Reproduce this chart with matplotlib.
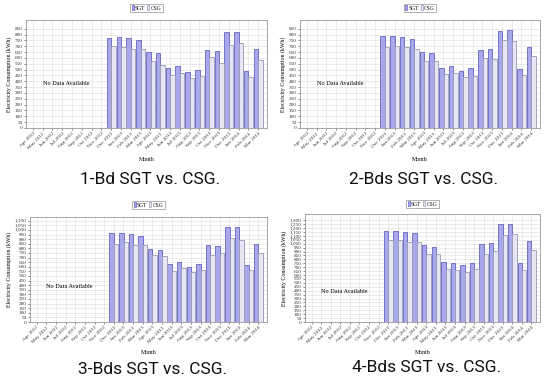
import numpy as np
import matplotlib
matplotlib.use("Agg")
import matplotlib.pyplot as plt
from matplotlib.patches import Patch

# months on the x axis
months = ["Apr 2012", "May 2012", "Jun 2012", "Jul 2012", "Aug 2012", "Sep 2012",
          "Oct 2012", "Nov 2012", "Dec 2012", "Jan 2013", "Feb 2013", "Mar 2013",
          "Apr 2013", "May 2013", "Jun 2013", "Jul 2013", "Aug 2013", "Sep 2013",
          "Oct 2013", "Nov 2013", "Dec 2013", "Jan 2014", "Feb 2014", "Mar 2014"]
first_data = 8  # data starts Dec 2012

# readings per building type (Dec 2012 .. Mar 2014)
sgt_1bd = [775, 780, 775, 755, 655, 645, 515, 530, 480, 500, 670, 660, 820, 825, 485, 675]
csg_1bd = [700, 695, 675, 675, 575, 540, 455, 475, 430, 445, 605, 560, 715, 730, 435, 580]
sgt_2bd = [785, 785, 780, 760, 655, 645, 515, 530, 490, 510, 670, 675, 835, 840, 505, 690]
csg_2bd = [695, 705, 695, 675, 575, 570, 465, 475, 435, 445, 600, 595, 755, 745, 455, 615]
sgt_3bd = [964, 964, 957, 939, 796, 785, 627, 649, 599, 627, 832, 821, 1029, 1029, 616, 849]
csg_3bd = [849, 867, 832, 832, 724, 713, 552, 581, 538, 563, 724, 749, 914, 892, 563, 753]
sgt_4bd = [1164, 1164, 1155, 1138, 980, 959, 767, 759, 729, 759, 1002, 1010, 1249, 1257, 754, 1032]
csg_4bd = [1044, 1044, 1023, 1023, 865, 865, 682, 661, 639, 682, 874, 908, 1108, 1121, 669, 916]

captions = ["1-Bd SGT vs. CSG.", "2-Bds SGT vs. CSG.", "3-Bds SGT vs. CSG.", "4-Bds SGT vs. CSG."]
y_tops = [850, 850, 1100, 1300]
y_maxs = [925, 925, 1140, 1380]

sgt_color, sgt_edge = "#a8a8ea", "#6464c4"
csg_color, csg_edge = "#e6e6f6", "#9a9ab0"
serif = ["Liberation Serif", "DejaVu Serif"]

W, H = 550, 380
# axes boxes in pixels: left, top, right, bottom
boxes = [(26, 20, 267, 128), (300, 20, 540, 128), (30, 217, 267, 322), (305, 214, 540, 322)]
legend_y = [8, 8, 205, 204]
month_y = [159, 159, 353, 352]
caption_y = [179, 179, 369, 368]

fig = plt.figure(figsize=(5.5, 3.8), dpi=100)

series = [(sgt_1bd, csg_1bd), (sgt_2bd, csg_2bd), (sgt_3bd, csg_3bd), (sgt_4bd, csg_4bd)]
for k, (sgt, csg) in enumerate(series):
    l, t, r, b = boxes[k]
    ax = fig.add_axes([l / W, 1 - b / H, (r - l) / W, (b - t) / H])
    idx = np.arange(first_data, first_data + len(sgt))
    ax.bar(idx - 0.22, sgt, width=0.46, color=sgt_color, edgecolor=sgt_edge, linewidth=0.6, zorder=3)
    ax.bar(idx + 0.24, csg, width=0.46, color=csg_color, edgecolor=csg_edge, linewidth=0.6, zorder=3)
    ax.set_xlim(-0.7, 23.9)
    ax.set_ylim(0, y_maxs[k])
    ax.set_xticks(np.arange(len(months)))
    ax.set_xticklabels(months, rotation=45, ha="right", rotation_mode="anchor",
                       fontsize=3.8, family=serif)
    yt = np.arange(0, y_tops[k] + 1, 50)
    ax.set_yticks(yt)
    ax.set_yticklabels([f"{v:,}" for v in yt], fontsize=3.7, family=serif)
    ax.tick_params(length=1.5, width=0.4, pad=1, colors="#333333")
    ax.grid(True, color="#dcdcdc", linewidth=0.4, zorder=0)
    for s in ax.spines.values():
        s.set_color("#999999")
        s.set_linewidth(0.6)
    ax.set_ylabel("Electricity Consumption (kWh)", fontsize=4.2, family=serif, labelpad=2)
    ax.text(3.4, 385, "No Data Available", fontsize=4.5, family=serif, ha="center", va="center")
    cx = (l + r) / 2
    fig.text(cx / W, 1 - month_y[k] / H, "Month", fontsize=4.2, family=serif,
             ha="center", va="center")
    handles = [Patch(facecolor=sgt_color, edgecolor=sgt_edge, linewidth=0.5),
               Patch(facecolor=csg_color, edgecolor=csg_edge, linewidth=0.5)]
    leg = fig.legend(handles, ["SGT", "CSG"], loc="center",
                     bbox_to_anchor=(cx / W, 1 - legend_y[k] / H), ncol=2,
                     prop={"family": serif, "size": 4}, frameon=True, fancybox=False,
                     handlelength=0.4, handleheight=0.9, handletextpad=0.2,
                     columnspacing=0.3, borderpad=0.3, borderaxespad=0)
    leg.get_frame().set_edgecolor("#777777")
    leg.get_frame().set_linewidth(0.5)
    fig.text((cx + 4) / W, 1 - caption_y[k] / H, captions[k], fontsize=12.5,
             family="Roboto", ha="center", va="center", color="#111111")

fig.savefig("out.png", dpi=100)
